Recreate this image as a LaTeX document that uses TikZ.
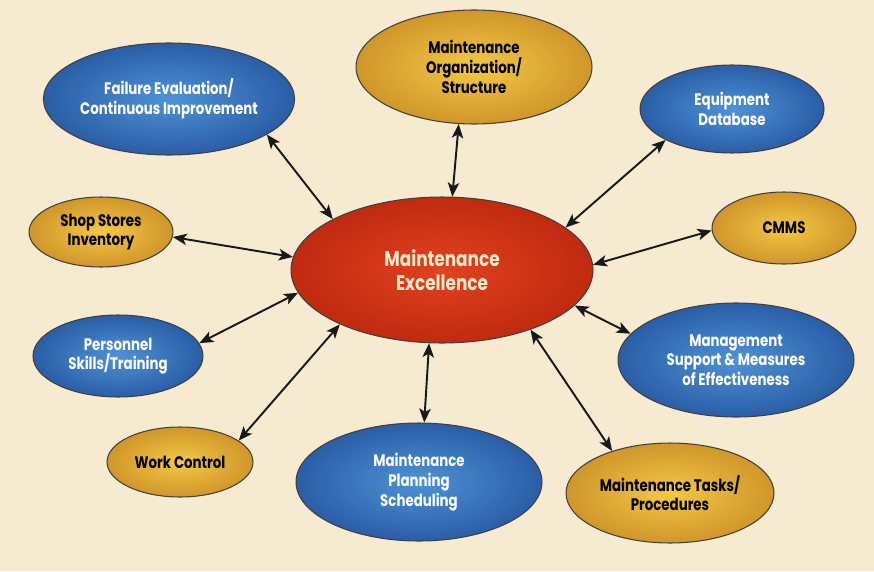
\documentclass[tikz,border=0pt]{standalone}
\usepackage{fontspec}
\newfontfamily\bubfont[FakeStretch=0.8]{Poppins}
\usepackage{tikz}
\usetikzlibrary{shapes.geometric}
\usetikzlibrary{arrows.meta}
\definecolor{paper}{HTML}{F6EBD0}
\definecolor{bubblue}{HTML}{4E92D6}
\definecolor{bubblueedge}{HTML}{2A5EA6}
\definecolor{bubgold}{HTML}{F3C845}
\definecolor{bubgoldedge}{HTML}{D0962A}
\definecolor{bubred}{HTML}{E2421E}
\definecolor{bubrededge}{HTML}{C02A10}
\definecolor{cream}{HTML}{FAEBCB}
\tikzset{
  bubble/.style={
    % The shape:
    shape=ellipse, inner sep=0pt,
    % The border:
    draw=black!75, semithick,
    % The text:
    align=center, font=\bubfont\bfseries\fontsize{9.5}{11.2}\selectfont
  },
  bluebub/.style={bubble,
    shading=radial, inner color=bubblue, outer color=bubblueedge, % lighter in the middle
    text=white},
  goldbub/.style={bubble,
    shading=radial, inner color=bubgold, outer color=bubgoldedge,
    text=black},
  redbub/.style={bubble,
    shading=radial, inner color=bubred, outer color=bubrededge,
    text=cream, font=\bubfont\bfseries\fontsize{12}{13.5}\selectfont},
  link/.style={{Stealth[length=8pt,width=6.5pt,inset=2pt]}-{Stealth[length=8pt,width=6.5pt,inset=2pt]},
    line width=1.1pt, black!90}
}

\begin{document}
\begin{tikzpicture}[x=0.02cm, y=-0.02cm]
	\fill[paper] (0,0) rectangle (874,571);
	\useasboundingbox (0,0) rectangle (874,571);
	% the hub
	\node[redbub, minimum width=6.04cm, minimum height=2.92cm] (main) at (442,270) {Maintenance\\Excellence};
	% the satellites
	\node[goldbub, minimum width=4.72cm, minimum height=2.28cm] (org) at (474,67) {Maintenance\\Organization/\\Structure};
	\node[bluebub, minimum width=4.76cm, minimum height=2.24cm] (fail) at (169,99) {Failure Evaluation/\\Continuous Improvement};
	\node[bluebub, minimum width=3.68cm, minimum height=1.76cm] (equip) at (732,109) {Equipment\\Database};
	\node[goldbub, minimum width=2.88cm, minimum height=1.40cm] (shop) at (101,232) {Shop Stores\\Inventory};
	\node[goldbub, minimum width=2.88cm, minimum height=1.44cm] (cmms) at (784,228) {CMMS};
	\node[bluebub, minimum width=3.40cm, minimum height=1.64cm] (pers) at (118,356) {Personnel\\Skills/Training};
	\node[bluebub, minimum width=4.72cm, minimum height=2.28cm] (mgmt) at (736,360) {Management\\Support \& Measures\\of Effectiveness};
	\node[goldbub, minimum width=2.92cm, minimum height=1.40cm] (work) at (180,462) {Work Control};
	\node[bluebub, minimum width=4.92cm, minimum height=2.36cm] (plan) at (419,482) {Maintenance\\Planning\\Scheduling};
	\node[goldbub, minimum width=4.16cm, minimum height=2.00cm] (tasks) at (670,493) {Maintenance Tasks/\\Procedures};
	% the links
	\draw[link] (fail.-20) -- (main.155);
	\draw[link] (org.-105) -- (main.82);
	\draw[link] (equip.-155) -- (main.19);
	\draw[link] (shop.-4) -- (main.175);
	\draw[link] (cmms.182) -- (main.2);
	\draw[link] (pers.9) -- (main.-171);
	\draw[link] (work.20) -- (main.-152);
	\draw[link] (plan.85) -- (main.-100);
	\draw[link] (tasks.144) -- (main.-34);
	\draw[link] (mgmt.166) -- (main.-15);
\end{tikzpicture}
\end{document}
